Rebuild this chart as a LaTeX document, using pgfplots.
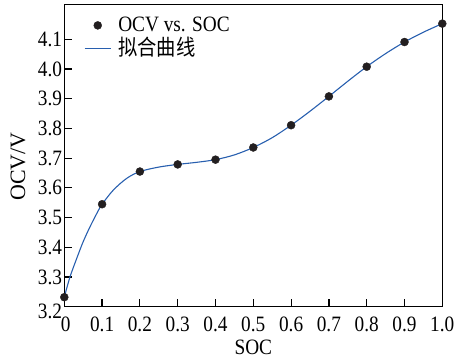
\documentclass[border=0pt]{standalone}
\usepackage{fontspec}
\setmainfont{Liberation Serif}[FakeStretch=0.88]
\newfontfamily\plainserif{Liberation Serif}
\newfontfamily\cjk{Noto Sans CJK SC}[FakeStretch=0.88]
\usepackage{pgfplots}
\pgfplotsset{compat=1.18}
\definecolor{fitblue}{RGB}{40,95,175}
\definecolor{dotblack}{RGB}{35,31,32}
\pgfplotsset{
  dotlegend/.style={legend image code/.code={\draw[dotblack, fill=dotblack, mark=*, mark size=4bp, mark repeat=2, mark phase=2, only marks] plot coordinates {(0bp,0bp) (13bp,0bp) (26bp,0bp)};}},
  linelegend/.style={legend image code/.code={\draw[fitblue, line width=1.1bp] (0bp,0bp) -- (26bp,0bp);}},
}
\pgfplotstableread{
x y
0.0 3.232
0.1 3.545
0.2 3.655
0.3 3.679
0.4 3.695
0.5 3.736
0.6 3.811
0.7 3.908
0.8 4.008
0.9 4.091
1.0 4.153
}\datatable
\pgfplotstableread{
x y
0.000 3.232
0.015 3.300
0.033 3.363
0.050 3.419
0.068 3.469
0.086 3.514
0.100 3.545
0.130 3.593
0.165 3.632
0.200 3.655
0.250 3.670
0.300 3.679
0.350 3.686
0.400 3.695
0.450 3.711
0.500 3.736
0.550 3.769
0.600 3.811
0.650 3.858
0.700 3.908
0.750 3.959
0.800 4.008
0.850 4.052
0.900 4.091
0.950 4.124
1.000 4.153
}\fittable
\begin{document}
\fontsize{22}{26}\selectfont
\begin{tikzpicture}
\begin{axis}[
  scale only axis,
  width=378bp, height=302.4bp,
  xmin=0, xmax=1, ymin=3.2, ymax=4.218,
  font=\fontsize{22}{26}\selectfont,
  /pgf/number format/assume math mode=true,
  xtick={0,0.1,0.2,0.3,0.4,0.5,0.6,0.7,0.8,0.9,1.0},
  xticklabels={\hspace*{3bp}0,0.1,0.2,0.3,0.4,0.5,0.6,0.7,0.8,0.9,1.0},
  ytick={3.2,3.3,3.4,3.5,3.6,3.7,3.8,3.9,4.0,4.1},
  yticklabels={\raisebox{-4.5bp}[\height][\depth]{3.2},3.3,3.4,3.5,3.6,3.7,3.8,3.9,4.0,4.1},
  tick align=inside,
  tick pos=left,
  major tick length=7.7bp,
  axis line style={line width=1.2bp, black},
  every tick/.style={line width=1.2bp, black},
  xticklabel style={inner sep=0pt, anchor=north, yshift=-10bp},
  yticklabel style={inner sep=0pt, anchor=east, xshift=-2bp},
  xlabel={SOC},
  xlabel style={at={([yshift=-33bp]axis description cs:0.5,0)}, anchor=north, inner sep=0pt},
  ylabel={\plainserif OCV/V},
  ylabel style={at={([xshift=-46.3bp]axis description cs:0,0.4636)}, anchor=center, inner sep=0pt},
  legend cell align=left,
  legend style={draw=none, fill=none, at={([xshift=19.7bp,yshift=-12bp]axis description cs:0,1)}, anchor=north west,
    inner sep=0pt, column sep=7bp, row sep=3bp, nodes={inner sep=0pt}},
]
\addplot[only marks, mark=*, mark size=4bp, color=dotblack, dotlegend]
  table[x=x,y=y] {\datatable};
\addlegendentry{OCV vs. SOC}
\addplot[smooth, tension=0.5, color=fitblue, line width=1.1bp, no marks, linelegend]
  table[x=x,y=y] {\fittable};
\addlegendentry{\cjk 拟合曲线}
\end{axis}
\pgfresetboundingbox
\useasboundingbox (-64.3bp,-55.3bp) rectangle (399.7bp,306.7bp);
\end{tikzpicture}
\end{document}
